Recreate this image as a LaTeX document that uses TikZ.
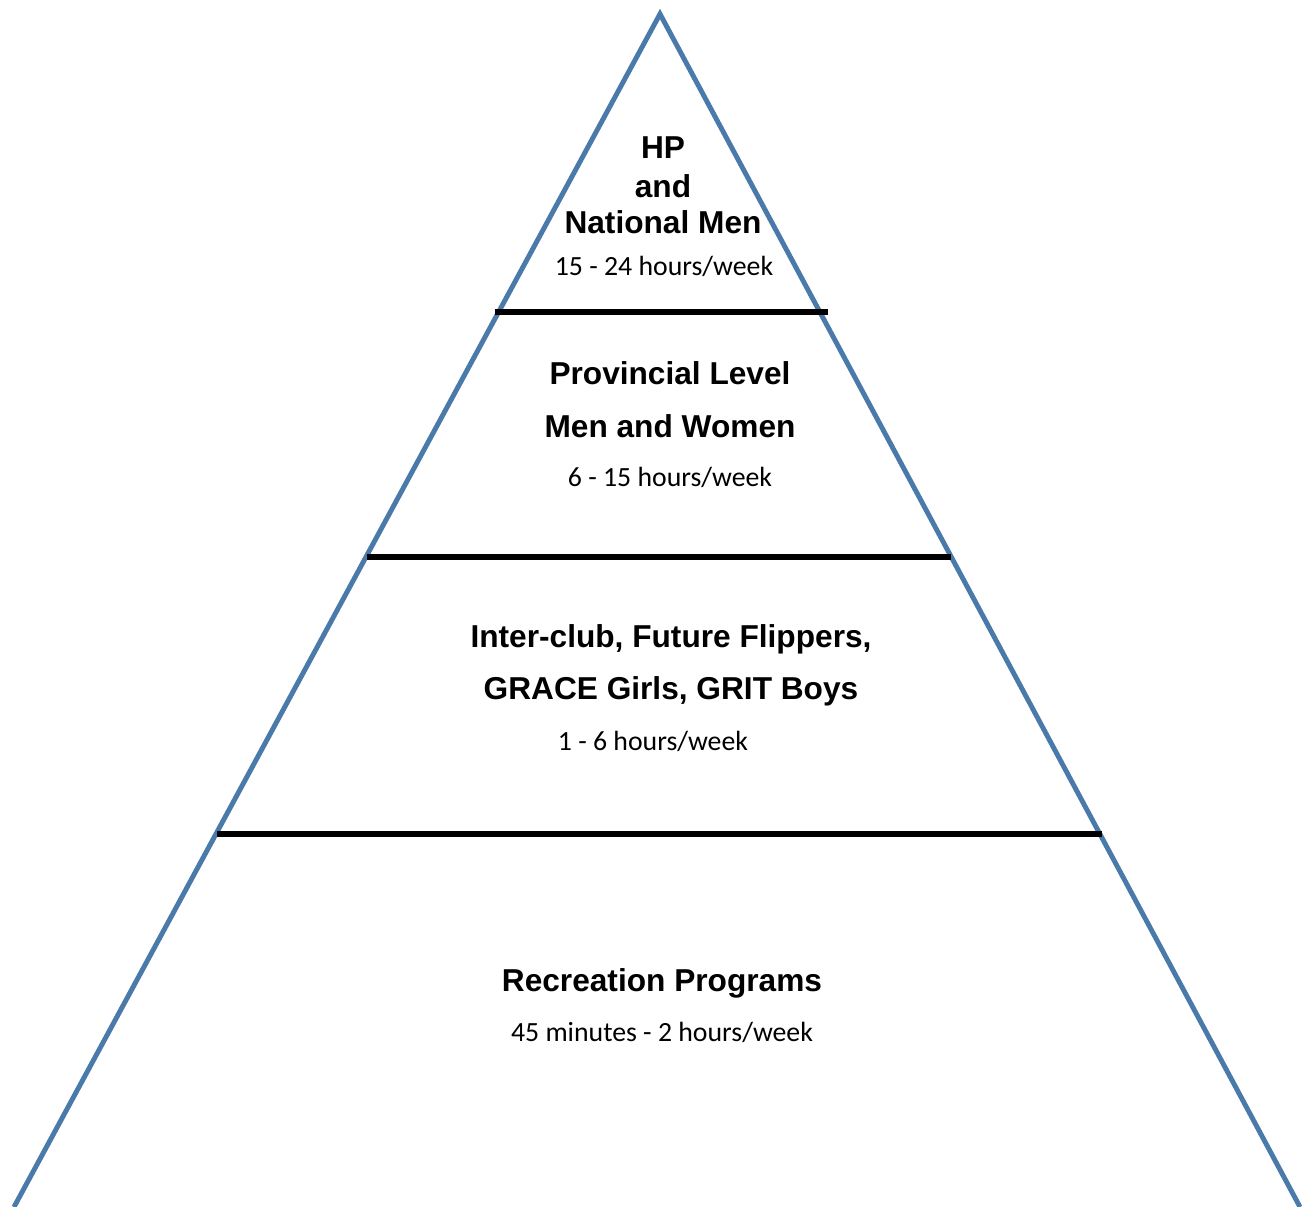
\documentclass[tikz,border=0pt]{standalone}
\usepackage{fontspec}
\setmainfont{Liberation Sans}
\newfontfamily\hoursfont{Carlito}
\usetikzlibrary{backgrounds}
\definecolor{pyr_blue}{HTML}{4A7AAA}

\begin{document}
\begin{tikzpicture}[
	    x=0.01cm, y=-0.01cm,
	    background rectangle/.style={fill=white}, show background rectangle,
	    title/.style={align=center, font=\fontsize{9}{10}\selectfont\bfseries, inner sep=0pt},
	    hours/.style={align=center, font=\hoursfont\fontsize{7.9}{9}\selectfont, inner sep=0pt},
	    side/.style={draw=pyr_blue, line width=1.4pt, line join=miter},
	    levelline/.style={draw=black, line width=1.45pt},
	]
		\useasboundingbox (0,0) rectangle (1302,1207);

		% outline of the pyramid
		\coordinate (apex) at (660,14);
		\coordinate (baseleft) at (14,1207);
		\coordinate (baseright) at (1300,1207);
		\draw [side] (baseleft) -- (apex) -- (baseright);

		% level separators
		\coordinate (l1a) at (495,312);
		\coordinate (l1b) at (828,312);
		\coordinate (l2a) at (367,557);
		\coordinate (l2b) at (951,557);
		\coordinate (l3a) at (217,834);
		\coordinate (l3b) at (1102,834);
		\draw [levelline] (l1a) -- (l1b);
		\draw [levelline] (l2a) -- (l2b);
		\draw [levelline] (l3a) -- (l3b);

		% level texts
		\node[title] (hp) at (663,148) {HP};
		\node[title] (and) at (663,186) {and};
		\node[title] (national) at (663,222) {National Men};
		\node[hours] (hpweek) at (664,266) {15 - 24 hours/week};

		\node[title] (provincial) at (670,373) {Provincial Level};
		\node[title] (menwomen) at (670,426) {Men and Women};
		\node[hours] (provweek) at (670,477) {6 - 15 hours/week};

		\node[title] (interclub) at (671,639) {Inter-club, Future Flippers,};
		\node[title] (grace) at (671,691) {GRACE Girls, GRIT Boys};
		\node[hours] (clubweek) at (653,741) {1 - 6 hours/week};

		\node[title] (recreation) at (662,983) {Recreation Programs};
		\node[hours] (recweek) at (662,1032) {45 minutes - 2 hours/week};
	\end{tikzpicture}
\end{document}
